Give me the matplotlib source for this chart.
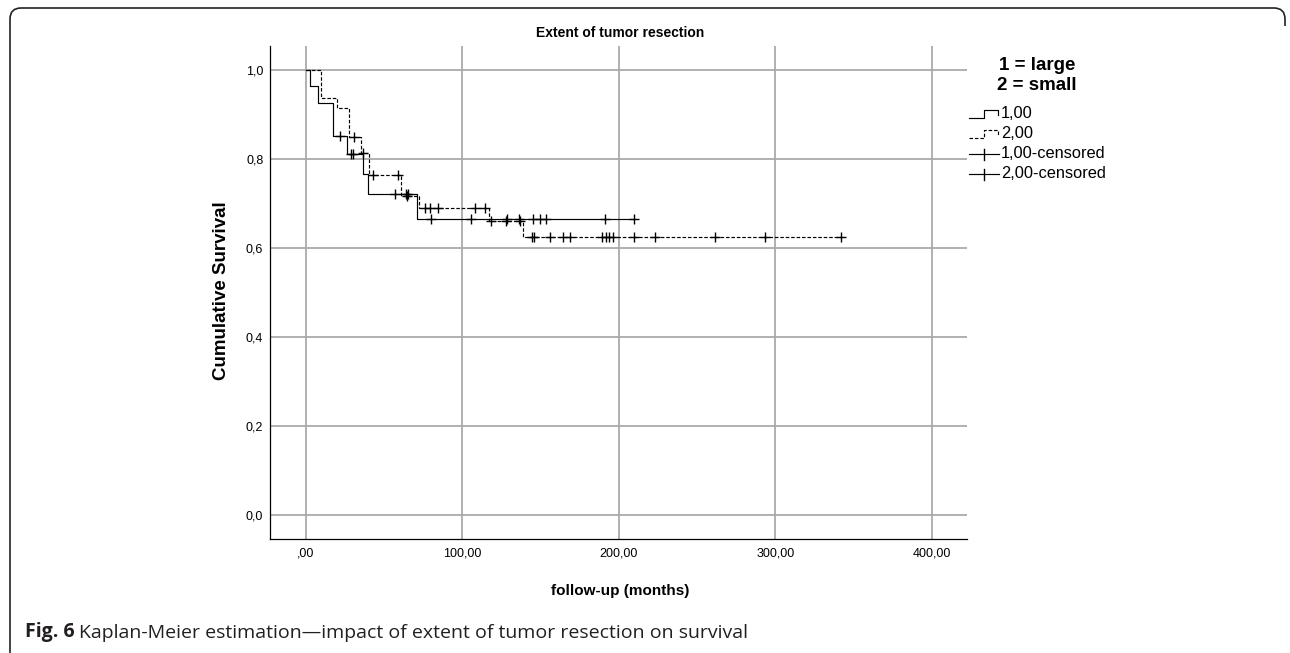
import numpy as np
import matplotlib
matplotlib.use('Agg')
from matplotlib import pyplot as plt
from matplotlib.path import Path
from matplotlib.patches import PathPatch

plt.rcParams['font.family'] = ['Liberation Sans', 'DejaVu Sans']

# group 1 = large resection (solid line)
large_times = [0, 2.8, 7.9, 17.5, 26.5, 36.6, 39.8, 71.2]
large_surv = [1.0, 0.963, 0.926, 0.852, 0.811, 0.766, 0.721, 0.665]
large_end = 210.0
large_cens = [22.0, 28.6, 30.3, 56.9, 64.0, 65.2, 80.0, 105.8, 128.4, 136.0,
              145.4, 149.6, 153.5, 191.3, 210.0]

# group 2 = small resection (dashed line)
small_times = [0, 9.4, 19.6, 27.5, 35.0, 40.5, 60.6, 72.4, 116.8, 138.7]
small_surv = [1.0, 0.936, 0.915, 0.850, 0.813, 0.764, 0.717, 0.689, 0.661, 0.625]
small_end = 342.3
small_cens = [30.7, 36.5, 42.6, 59.0, 64.4, 76.1, 79.3, 84.6, 107.8, 114.5,
              118.3, 128.1, 136.6, 144.3, 145.8, 156.0, 164.1, 168.8, 189.1,
              191.6, 194.0, 196.1, 210.0, 223.3, 261.3, 293.2, 342.3]

x_ticks = [0, 100, 200, 300, 400]
x_ticklabels = [',00', '100,00', '200,00', '300,00', '400,00']
y_ticks = [0.0, 0.2, 0.4, 0.6, 0.8, 1.0]
y_ticklabels = ['0,0', '0,2', '0,4', '0,6', '0,8', '1,0']

W, H = 1290, 653
fig = plt.figure(figsize=(W / 100, H / 100), dpi=100)

# plot area (pixel box of the original)
L, R, T, B = 270.3, 967.0, 46.0, 539.3
ax = fig.add_axes([L / W, 1 - B / H, (R - L) / W, (B - T) / H])
ax.set_xlim(-22.8, 422.6)
ax.set_ylim(-0.0553, 1.054)

GRID = '#aaaaaa'
for xv in x_ticks:
    ax.axvline(xv, color=GRID, lw=1.3, zorder=0)
for yv in y_ticks:
    ax.axhline(yv, color=GRID, lw=1.3, zorder=0)

ax.set_xticks(x_ticks)
ax.set_xticklabels(x_ticklabels)
ax.set_yticks(y_ticks)
ax.set_yticklabels(y_ticklabels)
ax.tick_params(length=0, labelsize=9, colors='black')
ax.tick_params(axis='x', pad=6)
ax.tick_params(axis='y', pad=5)
for s in ['top', 'right']:
    ax.spines[s].set_visible(False)
for s in ['left', 'bottom']:
    ax.spines[s].set_linewidth(0.9)
    ax.spines[s].set_color('black')


def km_curve(times, surv, end, cens, dashed):
    xs = list(times) + [end]
    ys = list(surv) + [surv[-1]]
    ls = (0, (3, 1.6)) if dashed else '-'
    ax.plot(xs, ys, drawstyle='steps-post', color='black', lw=0.85, ls=ls,
            zorder=3)
    idx = np.searchsorted(times, cens, side='right') - 1
    cy = np.array(surv)[idx]
    ax.plot(cens, cy, ls='none', marker='+', ms=7.5, mew=1.0, color='black',
            zorder=4)


km_curve(large_times, large_surv, large_end, large_cens, False)
km_curve(small_times, small_surv, small_end, small_cens, True)

# overlay in pixel coordinates for labels, legend, border and caption
ov = fig.add_axes([0, 0, 1, 1], zorder=5)
ov.set_xlim(0, W)
ov.set_ylim(H, 0)
ov.axis('off')
ov.patch.set_alpha(0)

ov.text(620, 33, 'Extent of tumor resection', fontsize=10, fontweight='bold',
        ha='center', va='center')
ov.text(620, 591, 'follow-up (months)', fontsize=11, fontweight='bold',
        ha='center', va='center')
ov.text(222, 291, 'Cumulative Survival', fontsize=13.5, fontweight='bold',
        ha='center', va='center', rotation=90)

# legend
ov.text(1037, 66, '1 = large', fontsize=13.5, fontweight='bold', ha='center',
        va='center')
ov.text(1037, 85, '2 = small', fontsize=13.5, fontweight='bold', ha='center',
        va='center')
leg_labels = ['1,00', '2,00', '1,00-censored', '2,00-censored']
for i, lab in enumerate(leg_labels):
    yc = 114 + 20 * i
    if i < 2:
        ls = '-' if i == 0 else (0, (3, 1.6))
        ov.plot([969, 983.5, 983.5, 998, 998],
                [yc + 3.5, yc + 3.5, yc - 4, yc - 4, yc + 0.5],
                color='black', lw=0.85, ls=ls)
    else:
        ov.plot([969, 999], [yc, yc], color='black', lw=0.85)
        ov.plot([983.5, 983.5], [yc - 5, yc + 6], color='black', lw=1.0)
    ov.text(1001, yc, lab, fontsize=11.8, ha='left', va='center')

# rounded frame
r = 11
verts = [(10, H + 2), (10, 8 + r), (10, 8), (10 + r, 8), (1285 - r, 8),
         (1285, 8), (1285, 8 + r), (1285, 26)]
codes = [Path.MOVETO, Path.LINETO, Path.CURVE3, Path.CURVE3, Path.LINETO,
         Path.CURVE3, Path.CURVE3, Path.LINETO]
ov.add_patch(PathPatch(Path(verts, codes), fill=False, lw=1.2,
                       ec='#222222'))

# caption
t1 = ov.text(25, 637, 'Fig. 6', fontsize=14, fontweight='bold',
             family=['Open Sans', 'DejaVu Sans'], color='#231f20',
             ha='left', va='baseline')
ov.annotate('Kaplan-Meier estimation\u2014impact of extent of tumor '
            'resection on survival', xy=(1, 0), xycoords=t1,
            xytext=(3.5, 0), textcoords='offset points', fontsize=14,
            family=['Open Sans', 'DejaVu Sans'], color='#231f20',
            ha='left', va='bottom')

fig.savefig('out.png', dpi=100)
